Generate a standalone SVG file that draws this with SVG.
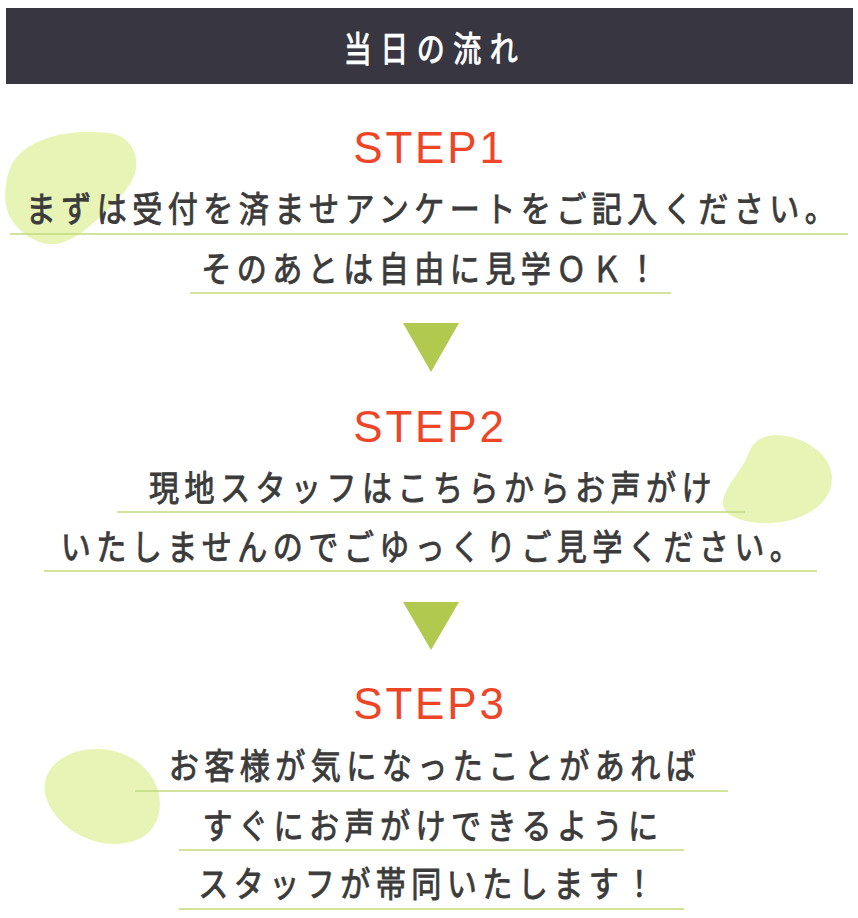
<svg xmlns="http://www.w3.org/2000/svg" width="858" height="918" viewBox="0 0 858 918">
<style>
.blob{fill:#e8f4b6}
.ul{stroke:#c2da7c;stroke-width:1.6;fill:none}
.arrow{fill:#b1c94e}
.step{font-family:"Liberation Sans",Arial,sans-serif;font-size:44px;fill:#ee4527;letter-spacing:2.8px;text-anchor:middle}
.body{font-family:"Noto Sans CJK JP","Noto Sans",sans-serif;font-weight:400;font-size:35px;fill:#3b3b3b;stroke:#3b3b3b;stroke-width:0.9px;letter-spacing:6.3px;text-anchor:middle}
.title{font-family:"Noto Sans CJK JP","Noto Sans",sans-serif;font-weight:400;font-size:35px;fill:#ffffff;stroke:#ffffff;stroke-width:1px;letter-spacing:10.6px;text-anchor:middle}
</style>
<rect width="858" height="918" fill="#ffffff"/>
<g id="header">
<rect x="6" y="8" width="847" height="76" fill="#373641"/>
<text class="title" transform="translate(435,62) scale(0.8,1)">当日の流れ</text>
</g>
<g id="blobs">
<path class="blob" d="M110,133 C128,136 138,150 136,168 C134,185 118,200 100,217 C86,230 72,241 57,244 C38,246 20,234 10,217 C3,203 4,185 10,168 C20,145 50,133 83,132 C92,132 102,132 110,133 Z"/>
<path class="blob" d="M777,435 C805,436 832,455 832,478 C832,505 802,522 770,523 C742,524 720,515 723,500 C726,485 742,470 748,455 C752,442 762,435 777,435 Z"/>
<path class="blob" d="M97,749 C125,749 150,765 158,790 C165,818 152,844 114,844 C82,844 50,820 45,793 C41,768 65,749 97,749 Z"/>
</g>
<g id="step1">
<text class="step" x="430" y="163">STEP1</text>
<text class="body" transform="translate(433,222) scale(0.86,1)">まずは受付を済ませアンケートをご記入ください。</text>
<text class="body" transform="translate(432,282) scale(0.86,1)">そのあとは自由に見学ＯＫ！</text>
</g>
<g id="step2">
<text class="step" x="430" y="442">STEP2</text>
<text class="body" transform="translate(433,501) scale(0.86,1)">現地スタッフはこちらからお声がけ</text>
<text class="body" transform="translate(433,560) scale(0.86,1)">いたしませんのでごゆっくりご見学ください。</text>
</g>
<g id="step3">
<text class="step" x="430" y="719">STEP3</text>
<text class="body" transform="translate(435,779) scale(0.86,1)">お客様が気になったことがあれば</text>
<text class="body" transform="translate(433,839) scale(0.86,1)">すぐにお声がけできるように</text>
<text class="body" transform="translate(429,897) scale(0.86,1)">スタッフが帯同いたします！</text>
</g>
<g id="connectors">
<line class="ul" x1="10" y1="234" x2="848" y2="234"/>
<line class="ul" x1="190" y1="293" x2="671" y2="293"/>
<line class="ul" x1="117" y1="512" x2="745" y2="512"/>
<line class="ul" x1="44" y1="571" x2="817" y2="571"/>
<line class="ul" x1="135" y1="791" x2="728" y2="791"/>
<line class="ul" x1="179" y1="850" x2="684" y2="850"/>
<line class="ul" x1="179" y1="909" x2="684" y2="909"/>
<polygon class="arrow" points="403,323 459,323 431,372"/>
<polygon class="arrow" points="403,602 459,602 431,650"/>
</g>
</svg>
